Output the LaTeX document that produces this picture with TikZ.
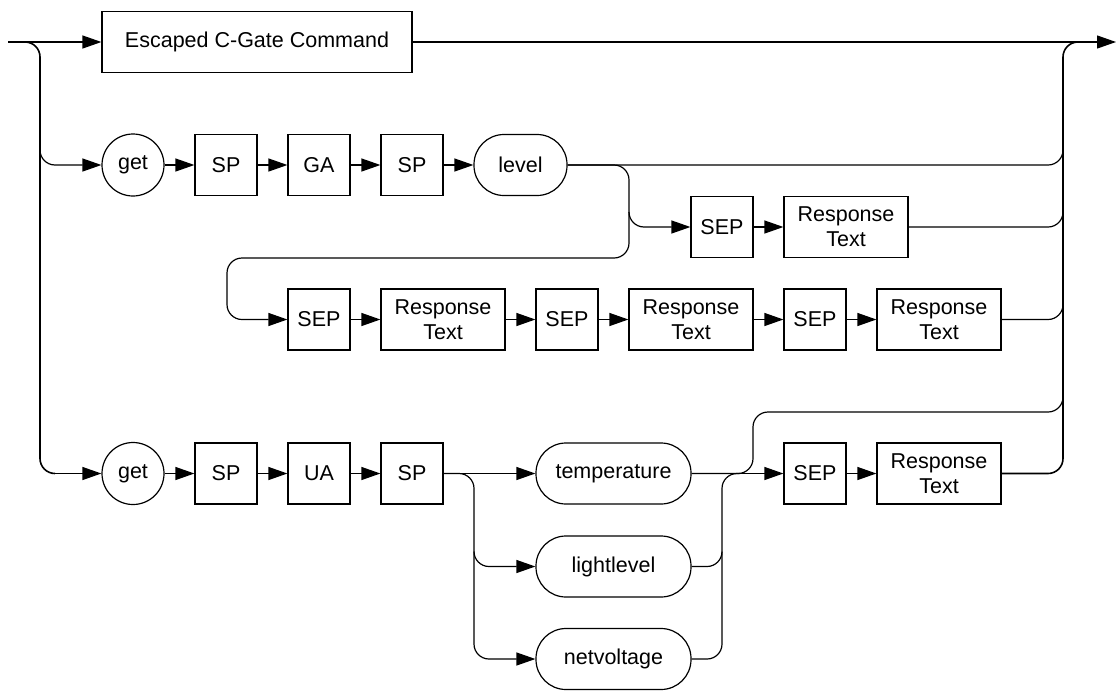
\documentclass[tikz,border=0pt]{standalone}
\usepackage{fontspec}
\setmainfont{Liberation Sans}
\usetikzlibrary{arrows.meta}
\begin{document}
\begin{tikzpicture}[x=1pt,y=-1pt,
  font=\fontsize{21.5}{25}\selectfont,
  box/.style={draw,line width=1.2pt,minimum width=62pt,minimum height=61pt,inner sep=0pt,align=center},
  wbox/.style={box,minimum width=124pt},
  term/.style={box,rounded corners=30pt},
  circ/.style={draw,circle,line width=1.2pt,minimum size=62pt,inner sep=0pt},
  conn/.style={line width=1.2pt,rounded corners=15pt},
  arr/.style={conn,-{Triangle[length=19pt,width=13pt]}},
  rail/.style={line width=1.6pt,rounded corners=15pt}]
\useasboundingbox (0,0) rectangle (1116,691);

% nodes
\node[box,minimum width=310pt] (esc) at (257,42) {Escaped C-Gate Command};
\node[circ] (g1) at (133,165) {get};
\node[box] (sp1) at (226,165) {SP};
\node[box] (ga) at (319,165) {GA};
\node[box] (sp2) at (412,165) {SP};
\node[term,minimum width=93pt] (lvl) at (520.5,165) {level};
\node[box] (sep3) at (722,227) {SEP};
\node[wbox] (rt3) at (846,227) {Response\\Text};
\node[box] (sep4a) at (319,319.5) {SEP};
\node[wbox] (rt4a) at (443,319.5) {Response\\Text};
\node[box] (sep4b) at (567,319.5) {SEP};
\node[wbox] (rt4b) at (691,319.5) {Response\\Text};
\node[box] (sep4c) at (815,319.5) {SEP};
\node[wbox] (rt4c) at (939,319.5) {Response\\Text};
\node[circ] (g2) at (133,473.5) {get};
\node[box] (sp5a) at (226,473.5) {SP};
\node[box] (ua) at (319,473.5) {UA};
\node[box] (sp5b) at (412,473.5) {SP};
\node[term,minimum width=155pt] (temp) at (613.5,473.5) {temperature};
\node[term,minimum width=155pt] (light) at (613.5,566.5) {lightlevel};
\node[term,minimum width=155pt] (net) at (613.5,659) {netvoltage};
\node[box] (sep5) at (815,473.5) {SEP};
\node[wbox] (rt5) at (939,473.5) {Response\\Text};

\coordinate (start) at (8,42);
\coordinate (fin) at (1116,42);

% main line
\draw[arr] (start) -- (esc.west);
\draw[arr] (esc.east) -- (fin);

% left rail
\draw[rail] (25,42) -- (40,42) -- (40,473.5) -- (55,473.5);
\draw[arr] (54,473.5) -- (g2.west);
\draw[arr] (40,150) -- (40,165) -- (g1.west);

% right rail
\draw[rail] (rt5.east) -- (1063,473.5) -- (1063,42) -- (1078,42);
\draw[conn] (lvl.east) -- (1063,165) -- (1063,150);
\draw[conn] (rt3.east) -- (1063,227) -- (1063,212);
\draw[conn] (rt4c.east) -- (1063,319.5) -- (1063,304.5);
\draw[conn] (temp.east) -- (753,473.5) -- (753,412) -- (1063,412) -- (1063,397);

% row 2
\draw[arr] (g1) -- (sp1);
\draw[arr] (sp1) -- (ga);
\draw[arr] (ga) -- (sp2);
\draw[arr] (sp2) -- (lvl);

% loop to rows 3 and 4
\draw[arr] (lvl.east) -- (629,165) -- (629,258) -- (227,258) -- (227,319.5) -- (sep4a.west);
\draw[arr] (629,212) -- (629,227) -- (sep3.west);
\draw[arr] (sep3) -- (rt3);

% row 4
\draw[arr] (sep4a) -- (rt4a);
\draw[arr] (rt4a) -- (sep4b);
\draw[arr] (sep4b) -- (rt4b);
\draw[arr] (rt4b) -- (sep4c);
\draw[arr] (sep4c) -- (rt4c);

% row 5
\draw[arr] (g2) -- (sp5a);
\draw[arr] (sp5a) -- (ua);
\draw[arr] (ua) -- (sp5b);
\draw[arr] (sp5b) -- (temp);
\draw[arr] (sp5b.east) -- (474,473.5) -- (474,659) -- (net.west);
\draw[arr] (474,551.5) -- (474,566.5) -- (light.west);
\draw[conn] (light.east) -- (722,566.5) -- (722,473.5) -- (740,473.5);
\draw[conn] (net.east) -- (722,659) -- (722,551.5);
\draw[arr] (temp) -- (sep5);
\draw[arr] (sep5) -- (rt5);
\end{tikzpicture}
\end{document}
